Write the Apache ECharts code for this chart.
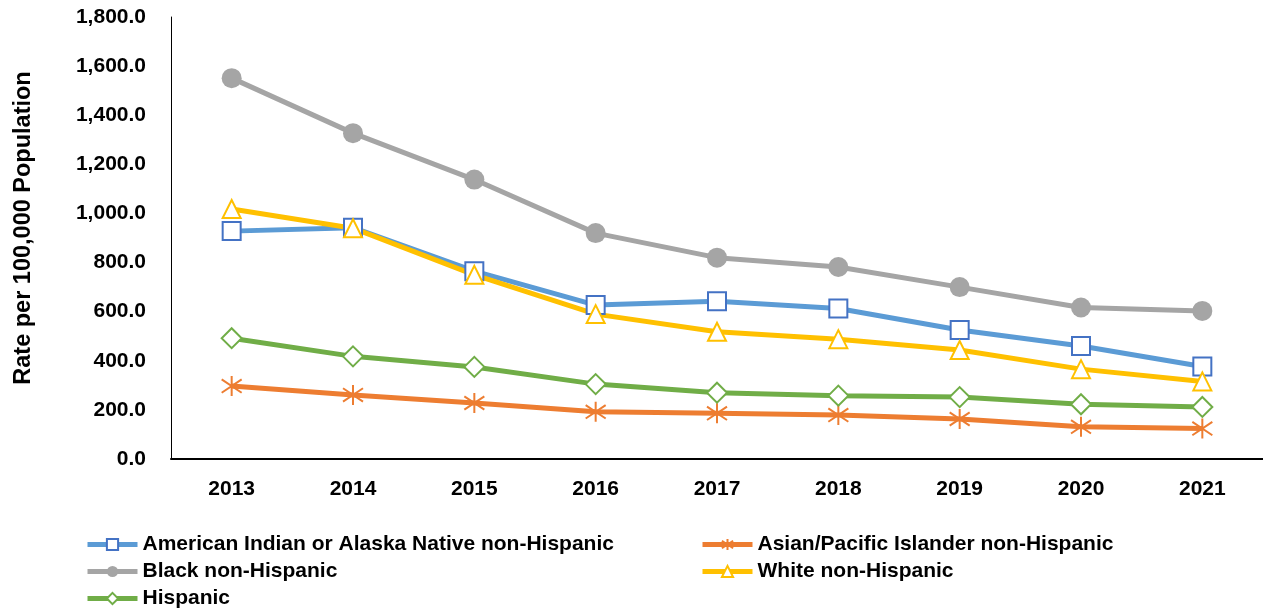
<!DOCTYPE html>
<html>
<head>
<meta charset="utf-8">
<script src="https://cdn.jsdelivr.net/npm/echarts@6/dist/echarts.min.js"></script>
<style>
  html, body { margin: 0; padding: 0; background: #fff; }
  #chart { width: 1263px; height: 609px; }
</style>
</head>
<body>
<div id="chart"></div>
<script>
const years = ['2013', '2014', '2015', '2016', '2017', '2018', '2019', '2020', '2021'];
const aian = [928, 942, 765, 627, 642, 613, 525, 460, 377];
const asian = [297, 261, 228, 192, 186, 179, 163, 131, 124];
const black = [1551, 1327, 1138, 920, 820, 782, 700, 617, 603];
const white = [1018, 940, 750, 590, 518, 488, 444, 366, 316];
const hispanic = [492, 418, 375, 305, 270, 258, 252, 223, 212];

const font = 'Liberation Sans';
const asterisk = 'path://M12,0 L12,24 M2,4 L22,20 M2,20 L22,4';

const chart = echarts.init(document.getElementById('chart'));

function line(name, data, color, symbol, size, markerColor, filled) {
    return {
        name: name,
        type: 'line',
        data: data,
        symbol: symbol,
        symbolSize: size,
        showAllSymbol: true,
        lineStyle: { color: color, width: 5 },
        itemStyle: {
            color: filled ? markerColor : '#fff',
            borderColor: markerColor,
            borderWidth: filled ? 0 : 2
        },
        z: filled ? 2 : 3
    };
}

const legendText = { fontFamily: font, fontSize: 21, fontWeight: 'bold', color: '#000' };
const legendBase = {
    orient: 'vertical', top: 534, itemGap: 6, padding: 0,
    itemWidth: 50, itemHeight: 14,
    lineStyle: { width: 5 },
    textStyle: legendText
};

chart.setOption({
    backgroundColor: '#fff',
    animation: false,
    grid: { left: 171, right: 0, top: 17, bottom: 150 },
    legend: [
        Object.assign({}, legendBase, {
            left: 85,
            data: ['American Indian or Alaska Native non-Hispanic', 'Black non-Hispanic', 'Hispanic']
        }),
        Object.assign({}, legendBase, {
            left: 700,
            data: ['Asian/Pacific Islander non-Hispanic', 'White non-Hispanic']
        })
    ],
    xAxis: {
        type: 'category',
        data: years,
        boundaryGap: true,
        axisLine: { lineStyle: { color: '#000', width: 2 } },
        axisTick: { show: false },
        axisLabel: { fontFamily: font, fontSize: 21, fontWeight: 'bold', color: '#000', margin: 20 }
    },
    yAxis: {
        type: 'value',
        min: 0,
        max: 1800,
        interval: 200,
        name: 'Rate per 100,000 Population',
        nameLocation: 'middle',
        nameRotate: 90,
        nameGap: 135,
        nameTextStyle: { fontFamily: font, fontSize: 23.5, fontWeight: 'bold', color: '#000', padding: [0, 0, 0, 20] },
        axisLine: { show: true, lineStyle: { color: '#000', width: 1 } },
        axisTick: { show: false },
        splitLine: { show: false },
        axisLabel: {
            fontFamily: font, fontSize: 21, fontWeight: 'bold', color: '#000', margin: 25,
            formatter: v => v.toLocaleString('en-US', { minimumFractionDigits: 1, maximumFractionDigits: 1 })
        }
    },
    series: [
        line('American Indian or Alaska Native non-Hispanic', aian, '#5B9BD5', 'rect', 18, '#4472C4', false),
        line('Asian/Pacific Islander non-Hispanic', asian, '#ED7D31', asterisk, 20, '#ED7D31', false),
        line('Black non-Hispanic', black, '#A5A5A5', 'circle', 20, '#A5A5A5', true),
        line('White non-Hispanic', white, '#FFC000', 'triangle', 18, '#FFC000', false),
        line('Hispanic', hispanic, '#70AD47', 'diamond', 20, '#70AD47', false)
    ]
});
</script>
</body>
</html>
